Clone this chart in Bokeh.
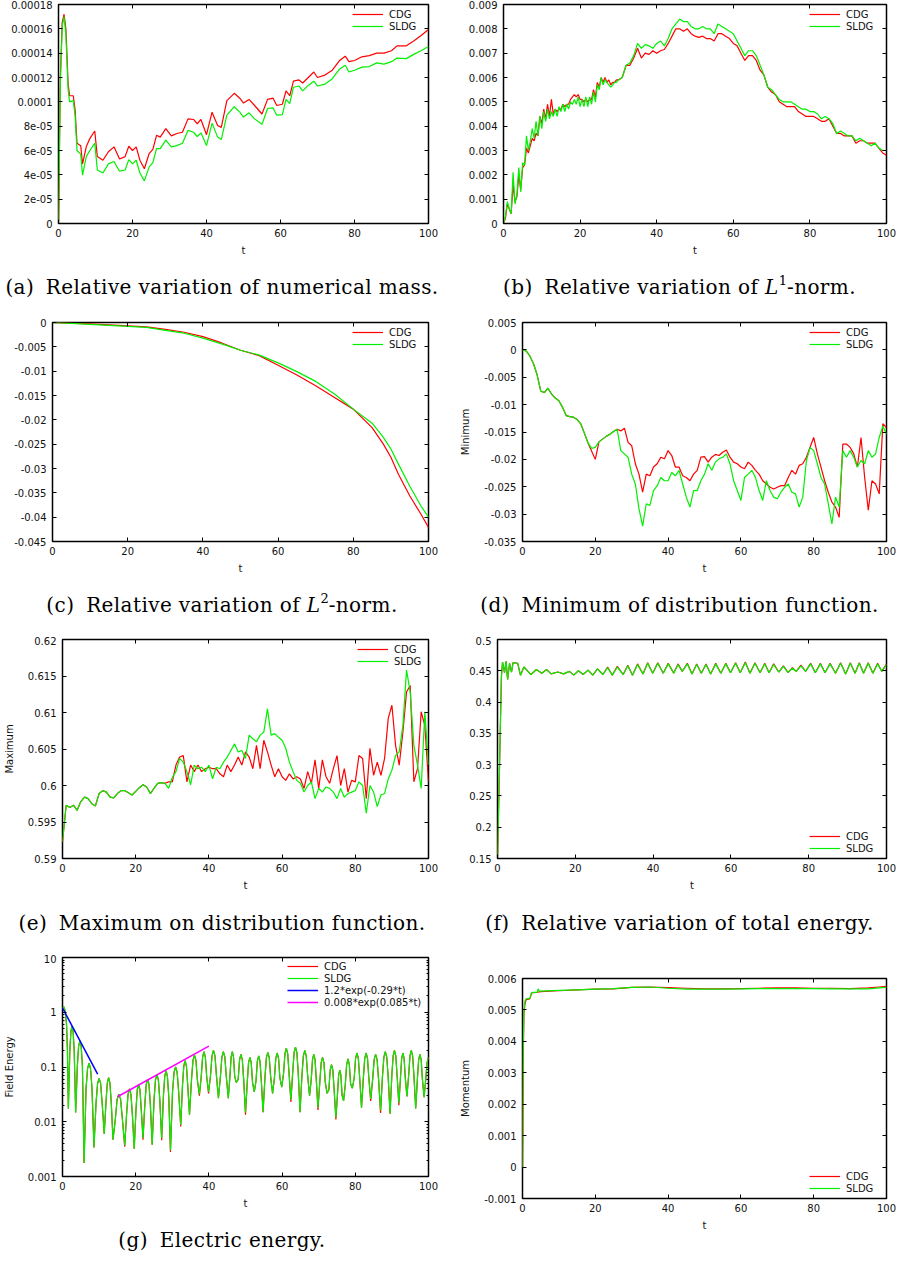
from bokeh.plotting import figure
from bokeh.models import FixedTicker, LinearAxis, Legend, LegendItem, Div, Range1d
from bokeh.layouts import column, row
from bokeh.embed import file_html
from bokeh.resources import INLINE

# ---------------- data ----------------
X_TICKS = [0, 20, 40, 60, 80, 100]

# (a) relative variation of numerical mass
a_t = [0, 0.5, 1, 1.5, 2, 2.6, 3, 4, 4.5, 5,
       6, 6.5, 7.5, 8.5, 9.8, 10.5, 12, 13.5, 15, 16.5,
       18, 19, 20, 21, 22, 23.2, 24.5, 25.5, 26.5, 27.5,
       29, 30.5, 32, 33.5, 35, 36.5, 37.5, 38.5, 40, 41.5,
       43, 44, 45.5, 47.5, 49, 50, 51.5, 53, 55, 56.5,
       58, 59, 60.5, 61.5, 62.5, 63.5, 65, 66, 67.5, 69,
       70, 72, 74, 76, 77.5, 78.5, 80, 82, 84, 86,
       88, 90, 91.5, 94, 96, 98, 100]
a_cdg = [0, 1.2e-4, 1.65e-4, 1.72e-4, 1.6e-4, 1.15e-4, 1.05e-4, 1.05e-4, 0.93e-4, 6.6e-5,
         6.4e-5, 4.9e-5, 6.3e-5, 7.0e-5, 7.6e-5, 5.5e-5, 5.2e-5, 5.9e-5, 6.3e-5, 5.3e-5,
         5.5e-5, 6.35e-5, 6.0e-5, 6.3e-5, 5.2e-5, 4.5e-5, 5.75e-5, 6.1e-5, 7.25e-5, 7.1e-5,
         7.8e-5, 7.2e-5, 7.4e-5, 7.5e-5, 8.6e-5, 8.55e-5, 8.2e-5, 8.55e-5, 7.3e-5, 9.15e-5,
         8.05e-5, 7.9e-5, 1.01e-4, 1.07e-4, 1.03e-4, 9.9e-5, 1.02e-4, 9.7e-5, 9.0e-5, 1.02e-4,
         1.03e-4, 9.7e-5, 9.8e-5, 1.09e-4, 1.05e-4, 1.17e-4, 1.18e-4, 1.155e-4, 1.2e-4, 1.245e-4,
         1.2e-4, 1.22e-4, 1.26e-4, 1.34e-4, 1.375e-4, 1.33e-4, 1.34e-4, 1.37e-4, 1.38e-4, 1.4e-4,
         1.4e-4, 1.42e-4, 1.46e-4, 1.46e-4, 1.5e-4, 1.545e-4, 1.595e-4]
a_sldg = [0, 1.15e-4, 1.62e-4, 1.70e-4, 1.55e-4, 1.1e-4, 1.0e-4, 1.01e-4, 0.88e-4, 6.0e-5,
          5.7e-5, 3.97e-5, 5.5e-5, 6.0e-5, 6.6e-5, 4.4e-5, 4.15e-5, 4.9e-5, 5.1e-5, 4.3e-5,
          4.4e-5, 5.25e-5, 4.9e-5, 5.2e-5, 4.15e-5, 3.5e-5, 4.65e-5, 5.0e-5, 6.15e-5, 6.15e-5,
          6.85e-5, 6.3e-5, 6.4e-5, 6.6e-5, 7.65e-5, 7.5e-5, 7.15e-5, 7.45e-5, 6.4e-5, 8.25e-5,
          7.1e-5, 6.9e-5, 8.9e-5, 9.6e-5, 9.15e-5, 8.75e-5, 9.1e-5, 8.6e-5, 8.15e-5, 9.45e-5,
          9.5e-5, 8.9e-5, 8.95e-5, 1.02e-4, 9.85e-5, 1.12e-4, 1.13e-4, 1.09e-4, 1.135e-4, 1.17e-4,
          1.13e-4, 1.145e-4, 1.19e-4, 1.27e-4, 1.3e-4, 1.245e-4, 1.26e-4, 1.285e-4, 1.29e-4, 1.32e-4,
          1.31e-4, 1.33e-4, 1.36e-4, 1.355e-4, 1.39e-4, 1.42e-4, 1.455e-4]
a_yticks = [0, 2e-5, 4e-5, 6e-5, 8e-5, 1e-4, 1.2e-4, 1.4e-4, 1.6e-4, 1.8e-4]
a_ylabels = ["0", "2e-05", "4e-05", "6e-05", "8e-05", "0.0001", "0.00012", "0.00014", "0.00016", "0.00018"]

# (b) relative variation of L1 norm  (t: 0..30 every 0.5, then 31..100 every 1)
b_t = [i * 0.5 for i in range(61)] + list(range(31, 101))
b_cdg = [0, 0.0002, 0.0008, 0.0006, 0.0004, 0.0016, 0.0009, 0.0011, 0.0020, 0.0014,
         0.0023, 0.0024, 0.0031, 0.0029, 0.0032, 0.0035, 0.0034, 0.0037, 0.0036, 0.0044,
         0.0041, 0.0047, 0.0043, 0.0049, 0.0044, 0.0051, 0.0045, 0.0047, 0.0046, 0.0047,
         0.0047, 0.0049, 0.0048, 0.0049, 0.0049, 0.0051, 0.0052, 0.0053, 0.0052, 0.0053,
         0.0051, 0.0051, 0.0050, 0.0051, 0.0050, 0.0051, 0.0051, 0.0055, 0.0052, 0.0058,
         0.0056, 0.0060, 0.0058, 0.0060, 0.0058, 0.0059, 0.0057, 0.0058, 0.0058, 0.0059,
         0.0059,
         0.0060, 0.0065, 0.0065, 0.0068, 0.0072, 0.0068, 0.0070, 0.00695, 0.0071, 0.0070,
         0.0071, 0.00715, 0.0074, 0.0077, 0.0080, 0.0080, 0.0079, 0.0080, 0.0078, 0.0077,
         0.00765, 0.0077, 0.0076, 0.0076, 0.0075, 0.0078, 0.0078, 0.0077, 0.0076, 0.0074,
         0.0073, 0.0070, 0.0067, 0.0069, 0.0069, 0.0067, 0.0063, 0.0061, 0.0056, 0.0054,
         0.0053, 0.0050, 0.0049, 0.0048, 0.0048, 0.0048, 0.0046, 0.0045, 0.0044, 0.0044,
         0.0044, 0.0043, 0.0042, 0.0042, 0.0043, 0.0040, 0.0037, 0.0037, 0.0036, 0.0036,
         0.0036, 0.0033, 0.0034, 0.0034, 0.0033, 0.0033, 0.0033, 0.0031, 0.0029, 0.0028]
b_sldg = [0, 0.0003, 0.0009, 0.0006, 0.0004, 0.0021, 0.0008, 0.0012, 0.0023, 0.0013,
          0.0025, 0.0024, 0.0036, 0.0030, 0.0034, 0.0039, 0.0035, 0.0042, 0.0036, 0.0044,
          0.0039, 0.0046, 0.0042, 0.0047, 0.0043, 0.0046, 0.0044, 0.0047, 0.0044, 0.0048,
          0.0046, 0.0049, 0.0046, 0.0049, 0.0047, 0.0050, 0.0049, 0.0051, 0.0049, 0.0052,
          0.0048, 0.0051, 0.0048, 0.0052, 0.0048, 0.0052, 0.0049, 0.0054, 0.0050, 0.0057,
          0.0055, 0.0060, 0.0057, 0.0059, 0.0058, 0.0057, 0.0056, 0.0057, 0.0058, 0.0058,
          0.0059,
          0.0060, 0.0065, 0.0066, 0.0069, 0.0074, 0.0072, 0.00735, 0.0073, 0.0072, 0.0074,
          0.0075, 0.0073, 0.0076, 0.0080, 0.0082, 0.0084, 0.0083, 0.0083, 0.0081, 0.0080,
          0.0080, 0.0081, 0.0080, 0.0080, 0.0078, 0.0082, 0.0081, 0.0080, 0.0079, 0.0078,
          0.0075, 0.0072, 0.0069, 0.0071, 0.0071, 0.0069, 0.0065, 0.0061, 0.0056, 0.0055,
          0.0053, 0.0051, 0.0050, 0.0050, 0.0050, 0.0049, 0.0048, 0.0047, 0.0047, 0.0046,
          0.0046, 0.0045, 0.0043, 0.0044, 0.0043, 0.0041, 0.0037, 0.0038, 0.0037, 0.0036,
          0.0036, 0.0034, 0.0035, 0.0034, 0.0033, 0.0032, 0.0033, 0.0031, 0.0030, 0.0030]
b_yticks = [0, 0.001, 0.002, 0.003, 0.004, 0.005, 0.006, 0.007, 0.008, 0.009]
b_ylabels = ["0", "0.001", "0.002", "0.003", "0.004", "0.005", "0.006", "0.007", "0.008", "0.009"]

# (c) relative variation of L2 norm
c_t = [0, 10, 20, 25, 30, 35, 40, 45, 50, 55, 60, 65, 70, 75, 80, 85, 88, 90, 92, 95, 98, 100]
c_cdg = [0, -0.0003, -0.0007, -0.0009, -0.0014, -0.0020, -0.0029, -0.0042, -0.0057, -0.0068,
         -0.0088, -0.0108, -0.0130, -0.0154, -0.0178, -0.0216, -0.0250, -0.0277, -0.0312,
         -0.0356, -0.0394, -0.0421]
c_sldg = [0, -0.0004, -0.0008, -0.0010, -0.0016, -0.0022, -0.0032, -0.0044, -0.0057, -0.0067,
          -0.0083, -0.0101, -0.0121, -0.0147, -0.0178, -0.0207, -0.0236, -0.0260, -0.0291,
          -0.0336, -0.0377, -0.0400]
c_yticks = [-0.045, -0.04, -0.035, -0.03, -0.025, -0.02, -0.015, -0.01, -0.005, 0]
c_ylabels = ["-0.045", "-0.04", "-0.035", "-0.03", "-0.025", "-0.02", "-0.015", "-0.01", "-0.005", "0"]

# (d) minimum of distribution function (t = 0..100)
d_t = list(range(0, 101))
d_cdg = [0, -0.0002, -0.0011, -0.0025, -0.0045, -0.0075, -0.0078, -0.0070, -0.0081, -0.0088,
         -0.0093, -0.0105, -0.0120, -0.0122, -0.0123, -0.0127, -0.0135, -0.0152, -0.0170, -0.0185,
         -0.0200, -0.0168, -0.0163, -0.0158, -0.0154, -0.0149, -0.0145, -0.0148, -0.0143, -0.0169,
         -0.0175, -0.0208, -0.0227, -0.0260, -0.0227, -0.0230, -0.0214, -0.0208, -0.0196, -0.0199,
         -0.0184, -0.0193, -0.0214, -0.0214, -0.0230, -0.0233, -0.0239, -0.0227, -0.0220, -0.0196,
         -0.0195, -0.0205, -0.0196, -0.0191, -0.0193, -0.0187, -0.0183, -0.0196, -0.0205, -0.0208,
         -0.0214, -0.0217, -0.0205, -0.0211, -0.0220, -0.0227, -0.0239, -0.0245, -0.0251, -0.0254,
         -0.0251, -0.0248, -0.0248, -0.0233, -0.0220, -0.0227, -0.0211, -0.0208, -0.0196, -0.0178,
         -0.0160, -0.0190, -0.0214, -0.0239, -0.0260, -0.0278, -0.0287, -0.0306, -0.0172, -0.0172,
         -0.0178, -0.0190, -0.0214, -0.0160, -0.0233, -0.0293, -0.0239, -0.0245, -0.0263, -0.0135,
         -0.0142]
d_sldg = [0, -0.0002, -0.0011, -0.0025, -0.0045, -0.0075, -0.0078, -0.0070, -0.0081, -0.0088,
          -0.0093, -0.0105, -0.0120, -0.0122, -0.0123, -0.0127, -0.0135, -0.0152, -0.0170, -0.0180,
          -0.0178, -0.0168, -0.0163, -0.0158, -0.0154, -0.0149, -0.0145, -0.0184, -0.0190, -0.0196,
          -0.0227, -0.0245, -0.0290, -0.0322, -0.0281, -0.0284, -0.0257, -0.0248, -0.0233, -0.0239,
          -0.0239, -0.0224, -0.0230, -0.0220, -0.0245, -0.0269, -0.0287, -0.0257, -0.0257, -0.0239,
          -0.0227, -0.0208, -0.0220, -0.0205, -0.0199, -0.0196, -0.0190, -0.0208, -0.0239, -0.0257,
          -0.0275, -0.0233, -0.0227, -0.0220, -0.0233, -0.0257, -0.0275, -0.0239, -0.0257, -0.0269,
          -0.0272, -0.0260, -0.0251, -0.0245, -0.0260, -0.0263, -0.0287, -0.0269, -0.0202, -0.0178,
          -0.0184, -0.0208, -0.0233, -0.0245, -0.0281, -0.0318, -0.0269, -0.0287, -0.0184, -0.0196,
          -0.0184, -0.0196, -0.0214, -0.0202, -0.0208, -0.0184, -0.0196, -0.0190, -0.0160, -0.0139,
          -0.0154]
d_yticks = [-0.035, -0.03, -0.025, -0.02, -0.015, -0.01, -0.005, 0, 0.005]
d_ylabels = ["-0.035", "-0.03", "-0.025", "-0.02", "-0.015", "-0.01", "-0.005", "0", "0.005"]

# (e) maximum of distribution function (t = 0..100)
e_t = list(range(0, 101))
e_cdg = [0.5923, 0.5973, 0.5970, 0.5973, 0.5966, 0.5978, 0.5984, 0.5982, 0.5975, 0.5972,
         0.5989, 0.5993, 0.5991, 0.5984, 0.5983, 0.5989, 0.5993, 0.5993, 0.5990, 0.5987,
         0.5992, 0.5997, 0.6001, 0.5998, 0.5989, 0.5996, 0.6003, 0.6004, 0.6003, 0.6005,
         0.6005, 0.6028, 0.6039, 0.6041, 0.6005, 0.6028, 0.6019, 0.6028, 0.6019, 0.6023,
         0.6025, 0.6023, 0.6023, 0.6016, 0.6012, 0.6028, 0.6019, 0.6028, 0.6039, 0.6028,
         0.6046, 0.6039, 0.6023, 0.6055, 0.6023, 0.6062, 0.6046, 0.6028, 0.6012, 0.6023,
         0.6012, 0.6007, 0.6016, 0.6009, 0.6012, 0.6009, 0.5996, 0.6019, 0.6003, 0.6035,
         0.5996, 0.6035, 0.6012, 0.6003, 0.6023, 0.6041, 0.6000, 0.6023, 0.5991, 0.6007,
         0.6005, 0.6041, 0.6037, 0.5982, 0.6051, 0.6014, 0.6032, 0.6014, 0.6037, 0.6092,
         0.6110, 0.6055, 0.6028, 0.6073, 0.6128, 0.6137, 0.6005, 0.6023, 0.6101, 0.6082,
         0.6005]
e_sldg = [0.5923, 0.5973, 0.5970, 0.5973, 0.5966, 0.5978, 0.5984, 0.5982, 0.5975, 0.5972,
          0.5989, 0.5993, 0.5991, 0.5984, 0.5983, 0.5989, 0.5993, 0.5993, 0.5990, 0.5987,
          0.5992, 0.5997, 0.6001, 0.5998, 0.5989, 0.5996, 0.6003, 0.6004, 0.6003, 0.5996,
          0.6011, 0.6019, 0.6037, 0.6032, 0.6019, 0.6001, 0.6028, 0.6023, 0.6025, 0.6019,
          0.6028, 0.6009, 0.6025, 0.6023, 0.6032, 0.6039, 0.6048, 0.6057, 0.6046, 0.6048,
          0.6037, 0.6069, 0.6064, 0.6060, 0.6069, 0.6073, 0.6105, 0.6069, 0.6071, 0.6066,
          0.6062, 0.6051, 0.6032, 0.6019, 0.6007, 0.6003, 0.5991, 0.6000, 0.6005, 0.5982,
          0.5996, 0.5991, 0.5998, 0.5996, 0.5991, 0.5982, 0.5996, 0.5984, 0.5989, 0.5991,
          0.5993, 0.6005, 0.6000, 0.5962, 0.6000, 0.5991, 0.5971, 0.5987, 0.5989, 0.6009,
          0.6021, 0.6041, 0.6046, 0.6082, 0.6158, 0.6128, 0.6055, 0.6028, 0.5996, 0.6101,
          0.6028]
e_yticks = [0.59, 0.595, 0.6, 0.605, 0.61, 0.615, 0.62]
e_ylabels = ["0.59", "0.595", "0.6", "0.605", "0.61", "0.615", "0.62"]

# (f) relative variation of total energy
f_t = [0, 0.5, 1.0, 1.3, 1.8, 2.2, 2.6, 3.1, 3.6, 4.0,
       5.2, 5.9, 6.8, 8.6, 10.0, 11.4, 12.6, 13.8, 15.5, 17.0,
       18.5, 19.6, 20.8, 22.0, 23.3, 24.5, 25.7, 27.1, 28.3, 29.5,
       30.8, 32.3, 33.5, 34.7, 36.0, 37.4, 38.6, 39.9, 41.2, 42.6,
       43.9, 45.3, 46.4, 47.5, 48.8, 50.0, 51.2, 52.4, 53.6, 54.8,
       56.1, 57.4, 58.7, 59.9, 61.2, 62.4, 63.7, 64.9, 66.2, 67.5,
       68.7, 69.8, 71.0, 72.3, 73.5, 74.7, 75.8, 76.8, 78.0, 79.2,
       80.5, 81.7, 83.0, 84.2, 85.5, 86.9, 88.2, 89.5, 90.7, 91.9,
       93.0, 94.1, 95.3, 96.5, 97.7, 98.8, 100]
f_cdg = [0.150, 0.290, 0.440, 0.464, 0.447, 0.465, 0.436, 0.462, 0.448, 0.463,
         0.462, 0.443, 0.456, 0.444, 0.452, 0.446, 0.452, 0.445, 0.448, 0.445,
         0.449, 0.443, 0.450, 0.444, 0.451, 0.443, 0.453, 0.444, 0.456, 0.443,
         0.457, 0.444, 0.459, 0.443, 0.461, 0.445, 0.463, 0.446, 0.463, 0.446,
         0.462, 0.446, 0.461, 0.449, 0.462, 0.445, 0.461, 0.446, 0.461, 0.445,
         0.462, 0.446, 0.462, 0.447, 0.463, 0.447, 0.464, 0.446, 0.463, 0.447,
         0.462, 0.447, 0.461, 0.448, 0.458, 0.447, 0.455, 0.449, 0.459, 0.449,
         0.462, 0.447, 0.462, 0.447, 0.462, 0.446, 0.463, 0.445, 0.463, 0.446,
         0.463, 0.446, 0.463, 0.446, 0.462, 0.449, 0.461]
f_sldg = [0.150, 0.290, 0.440, 0.464, 0.447, 0.465, 0.436, 0.462, 0.448, 0.463,
          0.462, 0.443, 0.456, 0.444, 0.452, 0.446, 0.452, 0.445, 0.448, 0.445,
          0.449, 0.443, 0.450, 0.444, 0.451, 0.443, 0.453, 0.444, 0.455, 0.443,
          0.456, 0.444, 0.458, 0.443, 0.460, 0.445, 0.462, 0.446, 0.462, 0.446,
          0.461, 0.446, 0.460, 0.449, 0.461, 0.445, 0.460, 0.446, 0.460, 0.445,
          0.461, 0.446, 0.461, 0.447, 0.462, 0.447, 0.463, 0.446, 0.462, 0.447,
          0.461, 0.447, 0.460, 0.448, 0.457, 0.447, 0.454, 0.449, 0.458, 0.449,
          0.461, 0.447, 0.461, 0.447, 0.461, 0.446, 0.462, 0.445, 0.462, 0.446,
          0.462, 0.446, 0.462, 0.446, 0.461, 0.449, 0.460]
f_yticks = [0.15, 0.2, 0.25, 0.3, 0.35, 0.4, 0.45, 0.5]
f_ylabels = ["0.15", "0.2", "0.25", "0.3", "0.35", "0.4", "0.45", "0.5"]

# (g) electric (field) energy, log scale
g_t = [0, 0.4, 0.8, 1.1, 1.35,
       1.6, 2.0, 2.3, 2.6, 2.9, 3.2,
       3.6, 4.06, 4.4, 4.75, 5.1, 5.44,
       5.9, 6.44, 6.85, 7.25, 7.66, 8.06,
       8.6, 9.16, 9.58, 10.0, 10.42, 10.84,
       11.4, 11.88, 12.24, 12.6, 12.96, 13.32,
       13.8, 14.44, 14.92, 15.4, 15.88, 16.36,
       17.0, 17.52, 17.91, 18.3, 18.69, 19.08,
       19.6, 20.08, 20.44, 20.8, 21.16, 21.52,
       22.0, 22.5, 22.88, 23.25, 23.63, 24.0,
       24.5, 25.02, 25.41, 25.8, 26.19, 26.58,
       27.1, 27.58, 27.94, 28.3, 28.66, 29.02,
       29.5, 30.06, 30.48, 30.9, 31.32, 31.74,
       32.3, 32.78, 33.14, 33.5, 33.86, 34.22,
       34.7, 35.24, 35.65, 36.05, 36.46, 36.86,
       37.4, 37.9, 38.28, 38.65, 39.03, 39.4,
       39.9, 40.44, 40.85, 41.25, 41.66, 42.06,
       42.6, 43.14, 43.55, 43.95, 44.36, 44.76,
       45.3, 45.74, 46.07, 46.4, 46.73, 47.06,
       47.5, 48.0, 48.38, 48.75, 49.13, 49.5,
       50.0, 50.48, 50.84, 51.2, 51.56, 51.92,
       52.4, 52.88, 53.24, 53.6, 53.96, 54.32,
       54.8, 55.32, 55.71, 56.1, 56.49, 56.88,
       57.4, 57.9, 58.28, 58.65, 59.03, 59.4,
       59.9, 60.4, 60.78, 61.15, 61.53, 61.9,
       62.4, 62.9, 63.28, 63.65, 64.03, 64.4,
       64.9, 65.42, 65.81, 66.2, 66.59, 66.98,
       67.5, 67.96, 68.31, 68.65, 69.0, 69.34,
       69.8, 70.3, 70.68, 71.05, 71.43, 71.8,
       72.3, 72.78, 73.14, 73.5, 73.86, 74.22,
       74.7, 75.12, 75.44, 75.75, 76.07, 76.38,
       76.8, 77.28, 77.64, 78.0, 78.36, 78.72,
       79.2, 79.7, 80.08, 80.45, 80.83, 81.2,
       81.7, 82.2, 82.58, 82.95, 83.33, 83.7,
       84.2, 84.74, 85.15, 85.55, 85.96, 86.36,
       86.9, 87.42, 87.81, 88.2, 88.59, 88.98,
       89.5, 89.98, 90.34, 90.7, 91.06, 91.42,
       91.9, 92.34, 92.67, 93.0, 93.33, 93.66,
       94.1, 94.58, 94.94, 95.3, 95.66, 96.02,
       96.5, 96.96, 97.31, 97.65, 98.0, 98.34,
       98.8, 99.25, 99.6, 100.0]
g_sldg = [1.2, 1.25, 1.0, 0.6, 0.2,
          0.0175, 0.196, 0.448, 0.56, 0.448, 0.196,
          0.0148, 0.105, 0.24, 0.3, 0.24, 0.105,
          0.00176, 0.041, 0.094, 0.117, 0.094, 0.041,
          0.0034, 0.0217, 0.0496, 0.062, 0.0496, 0.0217,
          0.006, 0.0224, 0.0512, 0.064, 0.0512, 0.0224,
          0.0047, 0.0112, 0.0256, 0.032, 0.0256, 0.0112,
          0.0037, 0.014, 0.032, 0.04, 0.032, 0.014,
          0.0032, 0.0168, 0.0384, 0.048, 0.0384, 0.0168,
          0.005, 0.021, 0.048, 0.06, 0.048, 0.021,
          0.0038, 0.0256, 0.0584, 0.073, 0.0584, 0.0256,
          0.005, 0.0298, 0.068, 0.085, 0.068, 0.0298,
          0.003, 0.035, 0.08, 0.1, 0.08, 0.035,
          0.0087, 0.0455, 0.104, 0.13, 0.104, 0.0455,
          0.0134, 0.0578, 0.132, 0.165, 0.132, 0.0578,
          0.032, 0.0665, 0.152, 0.19, 0.152, 0.0665,
          0.035, 0.07, 0.16, 0.2, 0.16, 0.07,
          0.027, 0.0665, 0.152, 0.19, 0.152, 0.0665,
          0.027, 0.0665, 0.152, 0.19, 0.152, 0.0665,
          0.052, 0.0595, 0.136, 0.17, 0.136, 0.0595,
          0.0148, 0.0525, 0.12, 0.15, 0.12, 0.0525,
          0.035, 0.056, 0.128, 0.16, 0.128, 0.056,
          0.015, 0.0648, 0.148, 0.185, 0.148, 0.0648,
          0.033, 0.063, 0.144, 0.18, 0.144, 0.063,
          0.043, 0.077, 0.176, 0.22, 0.176, 0.077,
          0.025, 0.0805, 0.184, 0.23, 0.184, 0.0805,
          0.015, 0.07, 0.16, 0.2, 0.16, 0.07,
          0.03, 0.0595, 0.136, 0.17, 0.136, 0.0595,
          0.018, 0.0525, 0.12, 0.15, 0.12, 0.0525,
          0.033, 0.0385, 0.088, 0.11, 0.088, 0.0385,
          0.012, 0.0308, 0.0704, 0.088, 0.0704, 0.0308,
          0.024, 0.049, 0.112, 0.14, 0.112, 0.049,
          0.041, 0.063, 0.144, 0.18, 0.144, 0.063,
          0.018, 0.063, 0.144, 0.18, 0.144, 0.063,
          0.026, 0.0595, 0.136, 0.17, 0.136, 0.0595,
          0.016, 0.0665, 0.152, 0.19, 0.152, 0.0665,
          0.014, 0.07, 0.16, 0.2, 0.16, 0.07,
          0.022, 0.063, 0.144, 0.18, 0.144, 0.063,
          0.029, 0.07, 0.16, 0.2, 0.16, 0.07,
          0.0175, 0.0595, 0.136, 0.17, 0.136, 0.0595,
          0.028, 0.06, 0.12, 0.15]
g_cdg = [1.2, 1.25, 1.0, 0.6, 0.2,
         0.0175, 0.196, 0.448, 0.56, 0.448, 0.196,
         0.0148, 0.105, 0.24, 0.3, 0.24, 0.105,
         0.00176, 0.041, 0.094, 0.117, 0.094, 0.041,
         0.0034, 0.0217, 0.0496, 0.062, 0.0496, 0.0217,
         0.006, 0.0224, 0.0512, 0.064, 0.0512, 0.0224,
         0.0047, 0.0112, 0.0256, 0.032, 0.0256, 0.0112,
         0.0035, 0.014, 0.032, 0.04, 0.032, 0.014,
         0.0032, 0.0168, 0.0384, 0.048, 0.0384, 0.0168,
         0.0047, 0.021, 0.048, 0.06, 0.048, 0.021,
         0.0038, 0.0256, 0.0584, 0.073, 0.0584, 0.0256,
         0.0046, 0.0298, 0.068, 0.085, 0.068, 0.0298,
         0.0028, 0.035, 0.08, 0.1, 0.08, 0.035,
         0.0082, 0.0455, 0.104, 0.13, 0.104, 0.0455,
         0.0134, 0.0578, 0.132, 0.165, 0.132, 0.0578,
         0.030, 0.0665, 0.152, 0.19, 0.152, 0.0665,
         0.033, 0.07, 0.16, 0.2, 0.16, 0.07,
         0.027, 0.0665, 0.152, 0.19, 0.152, 0.0665,
         0.027, 0.0665, 0.152, 0.19, 0.152, 0.0665,
         0.052, 0.0595, 0.136, 0.17, 0.136, 0.0595,
         0.0135, 0.0525, 0.12, 0.15, 0.12, 0.0525,
         0.035, 0.056, 0.128, 0.16, 0.128, 0.056,
         0.015, 0.0648, 0.148, 0.185, 0.148, 0.0648,
         0.033, 0.063, 0.144, 0.18, 0.144, 0.063,
         0.043, 0.077, 0.176, 0.22, 0.176, 0.077,
         0.023, 0.0805, 0.184, 0.23, 0.184, 0.0805,
         0.015, 0.07, 0.16, 0.2, 0.16, 0.07,
         0.03, 0.0595, 0.136, 0.17, 0.136, 0.0595,
         0.0165, 0.0525, 0.12, 0.15, 0.12, 0.0525,
         0.033, 0.0385, 0.088, 0.11, 0.088, 0.0385,
         0.011, 0.0308, 0.0704, 0.088, 0.0704, 0.0308,
         0.024, 0.049, 0.112, 0.14, 0.112, 0.049,
         0.041, 0.063, 0.144, 0.18, 0.144, 0.063,
         0.018, 0.063, 0.144, 0.18, 0.144, 0.063,
         0.024, 0.0595, 0.136, 0.17, 0.136, 0.0595,
         0.0145, 0.0665, 0.152, 0.19, 0.152, 0.0665,
         0.014, 0.07, 0.16, 0.2, 0.16, 0.07,
         0.020, 0.063, 0.144, 0.18, 0.144, 0.063,
         0.029, 0.07, 0.16, 0.2, 0.16, 0.07,
         0.0175, 0.0595, 0.136, 0.17, 0.136, 0.0595,
         0.028, 0.06, 0.12, 0.15]
# fitted rates (straight lines on the log axis), end points
g_fit1_t = [0, 9.6]
g_fit1_y = [1.2, 0.074]      # 1.2*exp(-0.29*t)
g_fit2_t = [15, 40]
g_fit2_y = [0.0286, 0.24]    # 0.008*exp(0.085*t)
g_yticks = [0.001, 0.01, 0.1, 1, 10]
g_ylabels = ["0.001", "0.01", "0.1", "1", "10"]
g_yminor = [m * 10.0 ** e for e in (-3, -2, -1, 0) for m in range(2, 10)]

# (h) momentum
h_t = [0, 0.2, 0.4, 0.7, 1, 2, 2.5, 3, 4, 4.3, 4.6, 5, 10, 15, 20, 25, 30, 35, 40, 45,
       50, 55, 60, 65, 70, 75, 80, 85, 90, 95, 98, 100]
h_cdg = [0.0, 0.0035, 0.0049, 0.0052, 0.00533, 0.00535, 0.00554, 0.00555, 0.00556, 0.00557,
         0.00557, 0.00558, 0.00561, 0.00564, 0.00566, 0.00567, 0.00572, 0.00573, 0.00571, 0.00569,
         0.00567, 0.00567, 0.00568, 0.00569, 0.0057, 0.0057, 0.00569, 0.00569, 0.00568, 0.0057,
         0.00573, 0.00575]
h_sldg = [0.0, 0.0038, 0.0050, 0.0053, 0.00535, 0.00537, 0.00555, 0.00556, 0.00556, 0.00567,
          0.0056, 0.0056, 0.00562, 0.00564, 0.00566, 0.00568, 0.00572, 0.00573, 0.00569, 0.00566,
          0.00566, 0.00566, 0.00567, 0.00568, 0.00568, 0.00568, 0.00568, 0.00567, 0.00567, 0.00567,
          0.0057, 0.00572]
h_yticks = [-0.001, 0, 0.001, 0.002, 0.003, 0.004, 0.005, 0.006]
h_ylabels = ["-0.001", "0", "0.001", "0.002", "0.003", "0.004", "0.005", "0.006"]

# ---------------- styling helpers ----------------
FONT = "DejaVu Sans"
RED = "#ff0000"
GREEN = "#00f000"
TXT = "#111111"
SERIF = "DejaVu Serif, serif"


def base_axis(ax, minor):
    ax.axis_line_color = None
    ax.major_tick_in = 4
    ax.major_tick_out = 0
    ax.major_tick_line_color = "#000000"
    ax.minor_tick_in = 2 if minor else 0
    ax.minor_tick_out = 0
    ax.minor_tick_line_color = "#000000" if minor else None


def mirror_axis(ticker, minor):
    ax = LinearAxis(ticker=ticker, major_label_text_font_size="1px",
                    major_label_text_color=None, major_label_standoff=0)
    base_axis(ax, minor)
    return ax


def make_fig(W, H, ml, mr, mt, mb, yr, yticks, ylabels, ylabel=None, log=False, yminor=None):
    p = figure(width=W, height=H, title=None, x_range=Range1d(0, 100), y_range=Range1d(*yr),
               y_axis_type="log" if log else "linear",
               output_backend="svg", toolbar_location=None,
               min_border_left=ml, min_border_right=mr, min_border_top=mt, min_border_bottom=mb)
    p.grid.visible = False
    p.outline_line_color = "#000000"
    p.outline_line_width = 1.5
    p.background_fill_color = "white"
    p.border_fill_color = "white"
    xt = FixedTicker(ticks=X_TICKS, minor_ticks=[])
    yt = FixedTicker(ticks=yticks, minor_ticks=yminor or [])

    xa = p.xaxis[0]
    xa.ticker = xt
    base_axis(xa, False)
    xa.major_label_text_font = FONT
    xa.major_label_text_font_size = "10px"
    xa.major_label_text_color = TXT
    xa.major_label_standoff = 5
    xa.axis_label = "t"
    xa.axis_label_text_font = FONT
    xa.axis_label_text_font_size = "10px"
    xa.axis_label_text_font_style = "normal"
    xa.axis_label_text_color = TXT
    xa.axis_label_standoff = 5

    ya = p.yaxis[0]
    ya.ticker = yt
    base_axis(ya, log)
    ya.major_label_overrides = {v: s for v, s in zip(yticks, ylabels)}
    ya.major_label_text_font = FONT
    ya.major_label_text_font_size = "10px"
    ya.major_label_text_color = TXT
    ya.major_label_standoff = 6
    if ylabel:
        ya.axis_label = ylabel
        ya.axis_label_text_font = FONT
        ya.axis_label_text_font_size = "10px"
        ya.axis_label_text_font_style = "normal"
        ya.axis_label_text_color = TXT
        ya.axis_label_standoff = 10

    p.add_layout(mirror_axis(xt, False), "above")
    p.add_layout(mirror_axis(yt, log), "right")
    return p


def add_legend(p, items, left, vy):
    leg = Legend(items=[LegendItem(label=l, renderers=[r]) for l, r in items],
                 location=(left, vy), orientation="vertical",
                 border_line_color=None, background_fill_alpha=0,
                 label_text_font=FONT, label_text_font_size="10px", label_text_color=TXT,
                 glyph_width=31, glyph_height=12, label_height=12, label_standoff=6,
                 spacing=0, padding=0, margin=0)
    p.add_layout(leg)


def two_lines(p, t, cdg, sldg):
    r1 = p.line(t, cdg, line_color=RED, line_width=1.2)
    r2 = p.line(t, sldg, line_color=GREEN, line_width=1.2)
    return r1, r2


def caption(label, text, width, height, pad, shift):
    html = ('<div style="width:%dpx; padding-top:%dpx; text-align:center; '
            'font-family:%s; font-size:20px; line-height:23px; '
            'letter-spacing:0.4px; color:#000; position:relative; left:%dpx; white-space:nowrap;">'
            '<span style="margin-right:5px">(%s)</span> %s</div>'
            ) % (width, pad, SERIF, shift, label, text)
    return Div(text=html, width=width, height=height, margin=0,
               styles={"font-family": SERIF, "color": "#000"})


FH = 219
# (a)
pa = make_fig(450, 262, 58, 22, 4, 39, (0, 0.00018), a_yticks, a_ylabels)
r1, r2 = two_lines(pa, a_t, a_cdg, a_sldg)
add_legend(pa, [("CDG", r1), ("SLDG", r2)], 294, FH - 4 - 24)
# (b)
pb = make_fig(449, 262, 53, 13, 4, 39, (0, 0.009), b_yticks, b_ylabels)
r1, r2 = two_lines(pb, b_t, b_cdg, b_sldg)
add_legend(pb, [("CDG", r1), ("SLDG", r2)], 306, FH - 4 - 24)
# (c)
pc = make_fig(450, 262, 52, 22, 4, 39, (-0.045, 0), c_yticks, c_ylabels)
r1, r2 = two_lines(pc, c_t, c_cdg, c_sldg)
add_legend(pc, [("CDG", r1), ("SLDG", r2)], 300, FH - 4 - 24)
# (d)
pd_ = make_fig(449, 262, 72, 13, 4, 39, (-0.035, 0.005), d_yticks, d_ylabels, ylabel="Minimum")
r1, r2 = two_lines(pd_, d_t, d_cdg, d_sldg)
add_legend(pd_, [("CDG", r1), ("SLDG", r2)], 287, FH - 4 - 24)
# (e)
pe = make_fig(450, 262, 57, 22, 3, 40, (0.59, 0.62), e_yticks, e_ylabels, ylabel="Maximum")
r1, r2 = two_lines(pe, e_t, e_cdg, e_sldg)
add_legend(pe, [("CDG", r1), ("SLDG", r2)], 295, FH - 4 - 24)
# (f)
pf = make_fig(449, 262, 47, 13, 3, 40, (0.15, 0.5), f_yticks, f_ylabels)
r1, r2 = two_lines(pf, f_t, f_cdg, f_sldg)
add_legend(pf, [("CDG", r1), ("SLDG", r2)], 312, 4)
# (g)
pg = make_fig(450, 262, 57, 22, 3, 40, (0.001, 10), g_yticks, g_ylabels, ylabel="Field Energy",
              log=True, yminor=g_yminor)
r1, r2 = two_lines(pg, g_t, g_cdg, g_sldg)
r3 = pg.line(g_fit1_t, g_fit1_y, line_color="#0000ff", line_width=1.5)
r4 = pg.line(g_fit2_t, g_fit2_y, line_color="#ff00ff", line_width=1.5)
add_legend(pg, [("CDG", r1), ("SLDG", r2), ("1.2*exp(-0.29*t)", r3),
                ("0.008*exp(0.085*t)", r4)], 225, FH - 3 - 48)
# (h)
ph = make_fig(449, 308, 72, 13, 24, 64, (-0.001, 0.006), h_yticks, h_ylabels, ylabel="Momentum")
r1, r2 = two_lines(ph, h_t, h_cdg, h_sldg)
add_legend(ph, [("CDG", r1), ("SLDG", r2)], 287, 4)

SUP1 = '<sup style="font-size:13px; line-height:0; vertical-align:9px; letter-spacing:0">1</sup>'
SUP2 = '<sup style="font-size:13px; line-height:0; vertical-align:9px; letter-spacing:0">2</sup>'
cap_a = caption("a", "Relative variation of numerical mass.", 450, 56, 14, -3)
cap_b = caption("b", "Relative variation of <i>L</i>" + SUP1 + "-norm.", 449, 56, 14, 5)
cap_c = caption("c", "Relative variation of <i>L</i>" + SUP2 + "-norm.", 450, 56, 14, -3)
cap_d = caption("d", "Minimum of distribution function.", 449, 56, 14, 5)
cap_e = caption("e", "Maximum on distribution function.", 450, 56, 14, -3)
cap_f = caption("f", "Relative variation of total energy.", 449, 56, 14, 5)
cap_g = caption("g", "Electric energy.", 450, 46, 13, -3)

layout = column(
    row(column(pa, cap_a, spacing=0), column(pb, cap_b, spacing=0), spacing=0),
    row(column(pc, cap_c, spacing=0), column(pd_, cap_d, spacing=0), spacing=0),
    row(column(pe, cap_e, spacing=0), column(pf, cap_f, spacing=0), spacing=0),
    row(column(pg, cap_g, spacing=0), ph, spacing=0),
    spacing=0,
)

open("out.html", "w").write(file_html(layout, INLINE))
